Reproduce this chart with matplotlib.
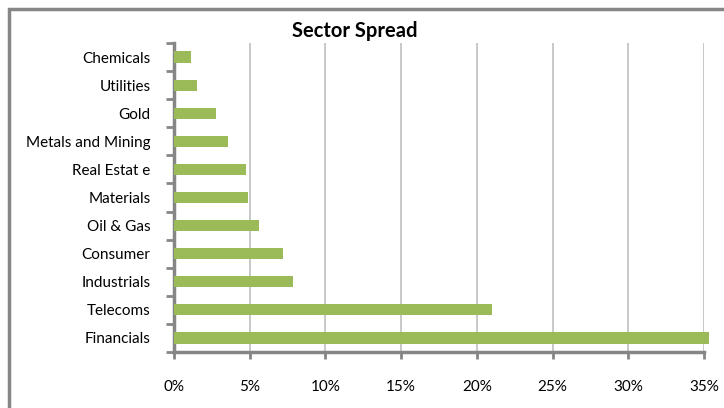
import matplotlib.pyplot as plt
import matplotlib.patches as patches
import numpy as np

sectors = ["Financials", "Telecoms", "Industrials", "Consumer", "Oil & Gas",
           "Materials", "Real Estat e", "Metals and Mining", "Gold", "Utilities", "Chemicals"]
weights = [35.3, 21.0, 7.85, 7.2, 5.6, 4.9, 4.75, 3.55, 2.75, 1.55, 1.15]
xticks = [0, 5, 10, 15, 20, 25, 30, 35]

plt.rcParams['font.family'] = ['Lato', 'DejaVu Sans']

fig = plt.figure(figsize=(7.24, 4.08), dpi=100)
ax = fig.add_axes([174 / 724, 1 - 352 / 408, 530 / 724, 309 / 408])

# outer chart frame (only left and top edges visible)
frame = patches.Rectangle((9 / 724, -0.1), 2, 1.1 - 9 / 408, transform=fig.transFigure,
                          fill=False, edgecolor="#868686", linewidth=2.5)
fig.patches.append(frame)

y = np.arange(len(sectors))
bars = ax.barh(y, weights, height=0.4, color="#9BBB59", zorder=3)
for b in bars:
    b.set_clip_on(False)

ax.set_xlim(0, 35)
ax.set_ylim(-0.5, len(sectors) - 0.5)

ax.set_xticks(xticks)
ax.set_xticklabels([f"{t}%" for t in xticks])
ax.xaxis.grid(True, color="#BFBFBF", linewidth=1.2, zorder=0)
ax.tick_params(axis="x", direction="out", length=5, width=2, color="#868686",
               pad=15, labelsize=11)

ax.set_yticks(np.arange(-0.5, len(sectors), 1.0))
ax.set_yticklabels([])
ax.set_yticks(y, minor=True)
ax.set_yticklabels(sectors, minor=True)
ax.tick_params(axis="y", which="major", direction="out", length=6, width=2, color="#868686")
ax.tick_params(axis="y", which="minor", length=0, pad=17, labelsize=11)

for s in ["top", "right"]:
    ax.spines[s].set_visible(False)
for s in ["left", "bottom"]:
    ax.spines[s].set_color("#868686")
    ax.spines[s].set_linewidth(2.5)

fig.text(355 / 724, 1 - 31 / 408, "Sector Spread", ha="center", va="center",
         fontsize=14.5, fontweight="bold")

fig.savefig("out.png", dpi=100)
